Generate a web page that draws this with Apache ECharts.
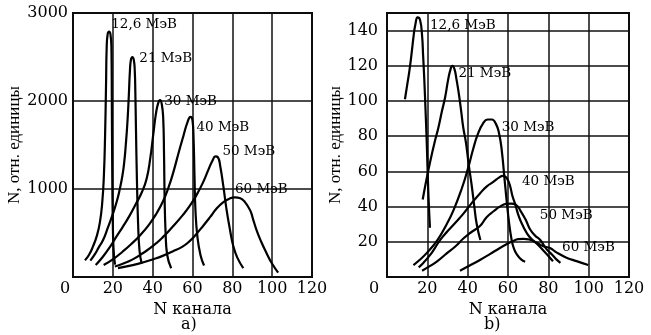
<!DOCTYPE html>
<html>
<head>
<meta charset="utf-8">
<script src="https://cdn.jsdelivr.net/npm/echarts@6/dist/echarts.min.js"></script>
<style>
html, body { margin: 0; padding: 0; background: #fff; }
#main { width: 651px; height: 335px; }
</style>
</head>
<body>
<div id="main"></div>
<script>
// подписи кривых (энергия)
var energies = ['12,6 МэВ', '21 МэВ', '30 МэВ', '40 МэВ', '50 МэВ', '60 МэВ'];

// a) [N канала, N]
var a126 = [[6,190],[8,250],[10,345],[12,470],[13.5,620],[14.7,850],[15.5,1150],[16.1,1600],[16.6,2200],[16.9,2600],[17.4,2760],[18.1,2790],[18.8,2760],[19.3,2600],[19.5,2000],[19.7,1200],[20,600],[20.4,300],[21.1,140]];
var a21 = [[8.7,186],[11,260],[13,340],[15.1,420],[17.5,560],[20.1,723],[22,860],[23.5,1000],[24.8,1150],[25.7,1300],[26.5,1500],[27.3,1750],[28,2050],[28.6,2350],[29.1,2470],[29.8,2500],[30.5,2470],[31,2350],[31.3,2100],[31.6,1700],[32.1,1100],[32.7,600],[33.4,300],[34.5,150]];
var a30 = [[11.4,136],[15,230],[18.5,340],[21.8,458],[25,570],[28.5,700],[31.8,840],[34.5,960],[37,1120],[38.8,1350],[40.3,1620],[41.6,1850],[42.7,1970],[43.7,2010],[44.6,1960],[45.3,1800],[45.7,1400],[46,900],[46.5,500],[47.3,250],[49.3,100]];
var a40 = [[15.4,136],[20,200],[25,290],[29,370],[33.5,470],[38,590],[42,725],[45.2,860],[48,1020],[50.5,1200],[53,1410],[55.4,1600],[57.5,1760],[59,1820],[60,1780],[60.5,1600],[61,1150],[61.5,750],[62.5,450],[64,250],[65.8,130]];
var a50 = [[21,120],[25,150],[30,200],[35,270],[40,350],[45,450],[50,570],[55,700],[58.7,810],[62,930],[65.3,1075],[68,1220],[70,1320],[71.5,1370],[72.8,1360],[74,1250],[75.5,1030],[77,780],[78.8,540],[80.5,350],[82.5,220],[85.5,100]];
var a60 = [[22.6,100],[30,135],[35,165],[40,200],[45,240],[50,290],[55,345],[58.7,410],[62,490],[65.3,580],[68.8,680],[72,775],[75.5,850],[78.5,890],[81.3,905],[84,895],[86,860],[88.9,760],[90.5,650],[92.2,530],[94.5,400],[97.2,270],[100,150],[103,50]];
var aLabelAt = [[19.2,2864],[33.3,2485],[45.8,1990],[62,1700],[75,1424],[81.3,989]];

// b)
var b126 = [[8.9,101],[10,109],[11.2,118],[12.3,128],[13.2,137],[14,143],[15.2,147.5],[16.4,146],[17.4,137],[17.9,126],[18.5,112],[19.1,95],[19.6,80],[20.1,62],[20.6,45],[21.3,28]];
var b21 = [[17.7,44],[19.5,55],[21.5,66],[23.5,76],[25.5,85],[27.2,94],[28.8,102],[30.3,112],[31.5,118],[32.4,120],[33.5,118],[34.5,112],[35.5,105],[36.7,95],[37.8,85],[39.2,76],[40.5,64],[42,52],[43.3,40],[44.5,30],[46.3,21]];
var b30 = [[13.1,6.8],[16,9.5],[20,14],[25,21],[29.6,30],[33,38],[37,50],[40,61],[42.8,73],[45,81],[47.5,87],[50,89.5],[52,89.5],[54,87],[55.5,82],[56.9,72],[58.5,53],[60.2,34],[61.8,21],[63,16],[64.3,13],[66.5,10],[68.5,8.7]];
var b40 = [[15.7,5.5],[18,8],[21,12],[23.5,16],[26.3,21],[30,26],[34,31],[37.9,36],[42,42],[46.1,47.5],[49.5,51.5],[52.7,54],[55.5,56.5],[57.5,57.5],[58.7,57],[60,55],[61.2,51],[62.2,46],[63.4,42],[65.5,34],[67.6,28.6],[70.5,23],[74.2,19],[78,14.5],[82.3,9]];
var b50 = [[17.4,3.6],[21,6],[25,9],[29.6,13.4],[34,17.5],[38,22],[41.2,25],[46.1,29],[49.4,34],[53,37.5],[56,40],[59,41.5],[61.5,41.7],[64,41],[66.5,37],[69,32],[71,27],[73.5,23.5],[76,21],[79,16],[82,12.5],[84,10],[86,8]];
var b60 = [[36.2,3.6],[41,6.5],[46.1,9.7],[51,13],[56,16.5],[60,19],[62.6,20.5],[65,21.5],[67.6,21.7],[70.5,21.3],[74.2,19.5],[77.5,17.5],[80.8,16.5],[84,14],[89,11],[94,9],[99.8,6.8]];
var bLabelAt = [[21.3,142.8],[35.4,115.7],[56.9,85],[66.9,54],[75.8,34.7],[86.8,16.5]];

var serif = 'DejaVu Serif';
var myChart = echarts.init(document.getElementById('main'));

function curve(data, idx, name, at) {
    return {
        type: 'line',
        xAxisIndex: idx,
        yAxisIndex: idx,
        data: data,
        smooth: 0.5,
        showSymbol: false,
        silent: true,
        lineStyle: { color: '#000', width: 2.2 },
        markPoint: {
            symbol: 'circle',
            symbolSize: 0,
            silent: true,
            label: {
                show: true, position: 'right', distance: 0, formatter: '{b}',
                color: '#000', fontFamily: serif, fontSize: 13.5
            },
            data: [{ name: name, coord: at }]
        }
    };
}

function xAxisFor(idx, zeroShift) {
    return {
        type: 'value', gridIndex: idx, min: 0, max: 120, interval: 20,
        name: 'N канала', nameLocation: 'middle', nameGap: 21,
        nameTextStyle: { color: '#000', fontFamily: serif, fontSize: 16 },
        axisLine: { show: false }, axisTick: { show: false },
        axisLabel: {
            color: '#000', fontFamily: serif, fontSize: 16, margin: 4,
            formatter: function (v) { return v === 0 ? '{z|0}' : String(v); },
            rich: { z: { color: '#000', fontFamily: serif, fontSize: 16, padding: [0, zeroShift * 2, 0, 0] } }
        },
        splitLine: { show: true, lineStyle: { color: '#111', width: 1.5 } }
    };
}

function yAxisFor(idx, max, interval, gap, margin, showMax) {
    return {
        type: 'value', gridIndex: idx, min: 0, max: max, interval: interval,
        name: 'N, отн. единицы', nameLocation: 'middle', nameGap: gap,
        nameTextStyle: { color: '#000', fontFamily: 'Liberation Serif', fontSize: 17 },
        axisLine: { show: false }, axisTick: { show: false },
        axisLabel: {
            color: '#000', fontFamily: serif, fontSize: 16, margin: margin,
            showMinLabel: false, showMaxLabel: showMax,
            formatter: function (v) { return String(v); }
        },
        splitLine: { show: true, lineStyle: { color: '#111', width: 1.5 } }
    };
}

var aSeries = [a126, a21, a30, a40, a50, a60];
var bSeries = [b126, b21, b30, b40, b50, b60];
var series = [];
aSeries.forEach(function (d, i) { series.push(curve(d, 0, energies[i], aLabelAt[i])); });
bSeries.forEach(function (d, i) { series.push(curve(d, 1, energies[i], bLabelAt[i])); });

var option = {
    animation: false,
    backgroundColor: '#fff',
    grid: [
        { left: 73, right: 339, top: 13, bottom: 58, show: true, borderColor: '#000', borderWidth: 2 },
        { left: 387, right: 22, top: 13, bottom: 58, show: true, borderColor: '#000', borderWidth: 2 }
    ],
    xAxis: [xAxisFor(0, 8), xAxisFor(1, 13)],
    yAxis: [yAxisFor(0, 3000, 1000, 45, 5, true), yAxisFor(1, 150, 20, 29, 9, false)],
    graphic: [
        { type: 'text', left: 181, top: 317, style: { text: 'a)', fill: '#000', font: '16px "DejaVu Serif"' } },
        { type: 'text', left: 484, top: 317, style: { text: 'b)', fill: '#000', font: '16px "DejaVu Serif"' } }
    ],
    series: series
};

myChart.setOption(option);
</script>
</body>
</html>
